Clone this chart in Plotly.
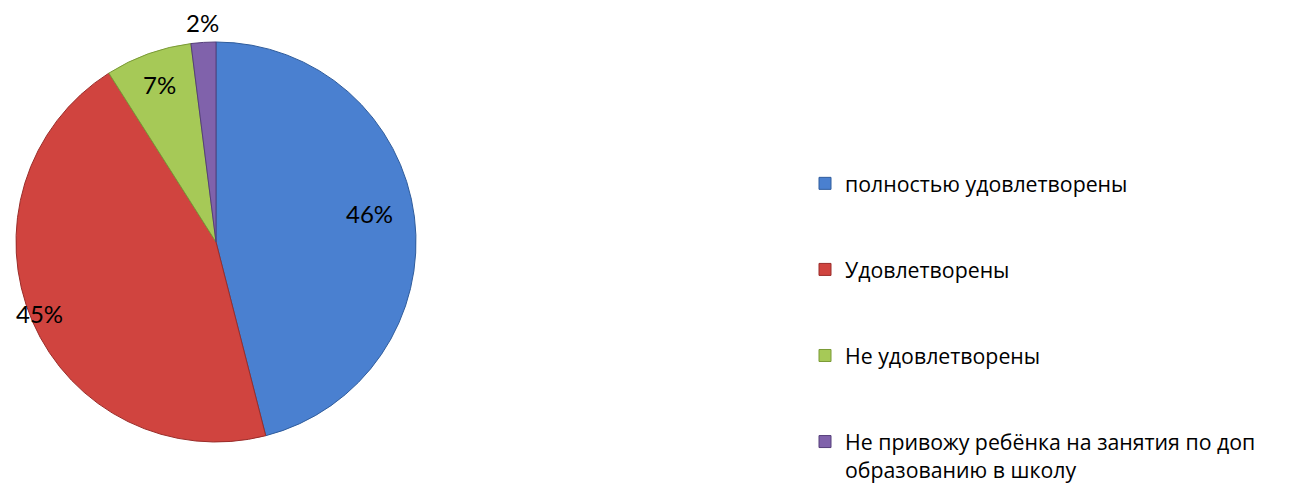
import math
import plotly.graph_objects as go

categories = [
    "полностью удовлетворены",
    "Удовлетворены",
    "Не удовлетворены",
    "Не привожу ребёнка на занятия по доп<br>образованию в школу",
]
values = [46, 45, 7, 2]

colors = ["#4A80D0", "#D0443F", "#A6C957", "#8062AB"]
edge_colors = ["#2F5C9C", "#9A2D2A", "#7A9A36", "#553E7A"]

# label placement (Excel "best fit" look): distance as fraction of radius,
# and a small angular nudge in degrees from the slice mid-angle
label_radius = [0.78, 0.95, 0.835, 1.10]
label_nudge = [-3.5, 1.4, 0.0, 0.0]

W, H = 1295, 490
OFF = 8  # page body margin of the browser
cx, cy, r = 216 - OFF, 242 - OFF, 200  # pie box in figure pixels

legend_labels = [c + "<br> <br> " if i < len(categories) - 1 else c for i, c in enumerate(categories)]

fig = go.Figure(
    go.Pie(
        labels=legend_labels,
        values=values,
        sort=False,
        direction="clockwise",
        rotation=0,
        marker=dict(colors=colors, line=dict(color=edge_colors, width=1)),
        textinfo="none",
        domain=dict(
            x=[(cx - r) / W, (cx + r) / W],
            y=[(H - (cy + r)) / H, (H - (cy - r)) / H],
        ),
        hoverinfo="label+percent",
    )
)

# percentage labels placed around the mid-angle of each slice
total = sum(values)
cum = 0
for v, k, nd in zip(values, label_radius, label_nudge):
    mid = 2 * math.pi * (cum + v / 2) / total + math.radians(nd)
    cum += v
    px = cx + k * r * math.sin(mid)
    py = cy - k * r * math.cos(mid)
    fig.add_annotation(
        x=px / W,
        y=1 - py / H,
        xref="paper",
        yref="paper",
        text=f"{round(100 * v / total)}%",
        showarrow=False,
        xanchor="center",
        yanchor="middle",
        font=dict(family="Lato, Open Sans, sans-serif", size=24, color="#000000"),
    )

fig.update_layout(
    width=W,
    height=H,
    margin=dict(l=0, r=0, t=0, b=0, autoexpand=False),
    paper_bgcolor="white",
    plot_bgcolor="white",
    showlegend=True,
    legend=dict(
        x=(805 - OFF) / W,
        xanchor="left",
        y=1 - 155 / H,
        yanchor="top",
        valign="top",
        font=dict(family="Open Sans, Lato, sans-serif", size=21.3, color="#000000"),
        bgcolor="rgba(0,0,0,0)",
    ),
)

fig.write_html("out.html")
